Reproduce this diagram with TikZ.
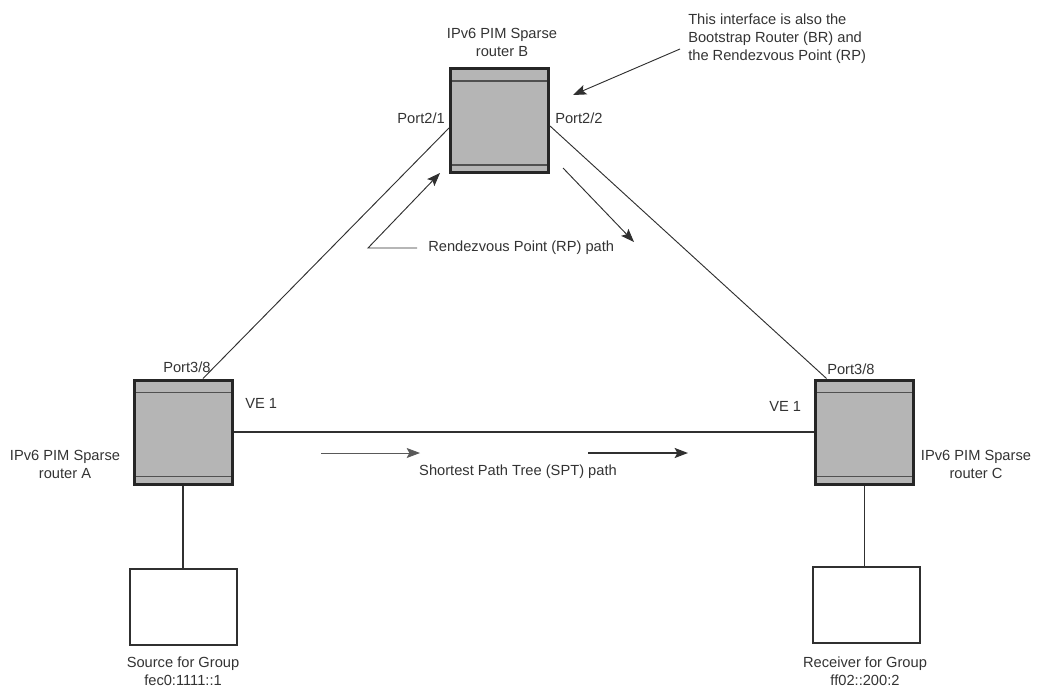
\documentclass[tikz,border=0pt]{standalone}
\usepackage{fontspec}
\setmainfont{Liberation Sans}
\usetikzlibrary{arrows.meta,calc}
\definecolor{txt}{HTML}{333333}
\definecolor{boxfill}{HTML}{B5B5B5}
\definecolor{boxedge}{HTML}{262626}
\definecolor{innerline}{HTML}{505050}
\definecolor{linecol}{HTML}{303030}
\begin{document}
\begin{tikzpicture}[x=0.75pt,y=-0.75pt,
  lbl/.style={font=\fontsize{11}{13.5}\selectfont, text=txt, inner sep=0pt, align=center},
  router/.style={draw=boxedge, line width=2.25pt, fill=boxfill, minimum width=73.5pt, minimum height=78pt, inner sep=0pt,
    path picture={
      \draw[innerline, line width=1.1pt] ([yshift=-9.4pt]path picture bounding box.north west) -- ([yshift=-9.4pt]path picture bounding box.north east);
      \draw[innerline, line width=1.1pt] ([yshift=5.6pt]path picture bounding box.south west) -- ([yshift=5.6pt]path picture bounding box.south east);}},
  host/.style={draw=linecol, line width=1.5pt, fill=white, minimum width=80.25pt, minimum height=57pt, inner sep=0pt},
  link/.style={draw=linecol, line width=0.7pt},
  arr/.style={draw=linecol, line width=0.7pt, -{Stealth[length=10pt,width=7.5pt,inset=2pt]}},
]
\useasboundingbox (0,0) rectangle (1037,688);

\coordinate (Bc) at (499.5,120.5);
\coordinate (Ac) at (183,432);
\coordinate (Cc) at (864.5,432);

\node[router] (B) at (Bc) {};
\node[router] (A) at (Ac) {};
\node[router] (C) at (Cc) {};
\node[host] (S) at (183.5,607) {};
\node[host] (R) at (866,605) {};

\draw[link] ($(B.west)+(0,7.5)$) -- ($(A.north)+(20,0)$);
\draw[link] ($(B.east)+(0,5.5)$) -- ($(C.north)+(-38,0)$);
\draw[link, line width=1.1pt] (A.east) -- (C.west);
\draw[link, line width=1.2pt] (A.south) -- (A.south |- S.north);
\draw[link, line width=1.2pt] (C.south) -- (C.south |- R.north);

% arrows
\coordinate (rp1s) at (417,248);
\coordinate (rp1c) at (368,248);
\coordinate (rp1e) at (440,173);
\coordinate (rp2s) at (563,168);
\coordinate (rp2e) at (634,242);
\coordinate (spt1s) at (321,453);
\coordinate (spt1e) at (420,453);
\coordinate (spt2s) at (588,453);
\coordinate (spt2e) at (688,453);
\coordinate (brs) at (680,49);
\coordinate (bre) at (573,95);

\draw[arr] (rp1s) -- (rp1c) -- (rp1e);
\draw[arr] (rp2s) -- (rp2e);
\draw[arr, draw=gray!70!black, line width=0.6pt] (spt1s) -- (spt1e);
\draw[arr, line width=1.3pt] (spt2s) -- (spt2e);
\draw[arr] (brs) -- (bre);

% labels
\node[lbl] (tB) at (502,42) {IPv6 PIM Sparse\\router B};
\node[lbl, anchor=east] (p21) at (445,118) {Port2/1};
\node[lbl, anchor=west] (p22) at (555,118) {Port2/2};
\node[lbl, anchor=west, align=left] (note) at (688,39) {This interface is also the\\Bootstrap Router (BR) and\\the Rendezvous Point (RP)};
\node[lbl, anchor=west] (rpt) at (428,248) {Rendezvous Point (RP) path};
\node[lbl, anchor=west] (pA) at (163,367) {Port3/8};
\node[lbl, anchor=west] (veA) at (245,403) {VE 1};
\node[lbl] (tA) at (65,464) {IPv6 PIM Sparse\\router A};
\node[lbl, anchor=west] (pC) at (827,369) {Port3/8};
\node[lbl, anchor=west] (veC) at (769,406) {VE 1};
\node[lbl] (tC) at (976,464) {IPv6 PIM Sparse\\router C};
\node[lbl] (spt) at (518,472) {Shortest Path Tree (SPT) path};
\node[lbl] (tS) at (183,671) {Source for Group\\fec0:1111::1};
\node[lbl] (tR) at (865,671) {Receiver for Group\\ff02::200:2};
\end{tikzpicture}
\end{document}
